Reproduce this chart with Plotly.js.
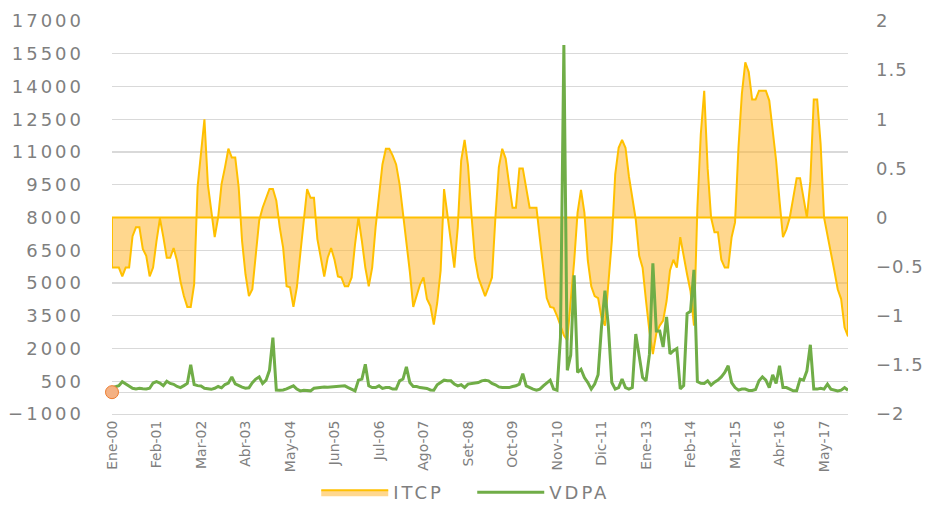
<!DOCTYPE html>
<html>
<head>
<meta charset="utf-8">
<script src="https://cdn.plot.ly/plotly-3.0.1.min.js"></script>
<style>
  html, body { margin: 0; padding: 0; background: #ffffff; }
  #chart { width: 925px; height: 505px; }
  .y2tick text, .legendtext { letter-spacing: 3px; }
  .ytick text { letter-spacing: 1px; }
</style>
</head>
<body>
<div id="chart"></div>
<script>
// Month abbreviations (Spanish) used to build the monthly categories Ene-00 .. Dic-17
const monthAbbr = ['Ene','Feb','Mar','Abr','May','Jun','Jul','Ago','Set','Oct','Nov','Dic'];
const startYear = 0;   // 2000
const nMonths = 216;   // Ene-00 .. Dic-17
const months = [];
for (let i = 0; i < nMonths; i++) {
  const yy = startYear + Math.floor(i / 12);
  months.push(monthAbbr[i % 12] + '-' + String(yy).padStart(2, '0'));
}
const tickStep = 13;
const tickLabels = months.filter((m, i) => i % tickStep === 0);

// ITCP (right axis)
const itcp = [
 -0.51,-0.51,-0.51,-0.60,-0.51,-0.51,-0.19,-0.10,-0.10,-0.32,
 -0.39,-0.60,-0.51,-0.24,-0.01,-0.20,-0.41,-0.41,-0.31,-0.44,
 -0.65,-0.80,-0.91,-0.91,-0.68, 0.31, 0.68, 1.00, 0.34, 0.07,
 -0.20, 0.00, 0.34, 0.51, 0.70, 0.61, 0.61, 0.31,-0.24,-0.58,
 -0.80,-0.73,-0.37,-0.03, 0.10, 0.19, 0.29, 0.29, 0.17,-0.10,
 -0.31,-0.70,-0.71,-0.91,-0.71,-0.37, 0.00, 0.29, 0.20, 0.20,
 -0.22,-0.43,-0.60,-0.41,-0.31,-0.43,-0.60,-0.61,-0.70,-0.70,
 -0.61,-0.27, 0.00,-0.24,-0.51,-0.70,-0.51,-0.10, 0.24, 0.54,
  0.70, 0.70, 0.63, 0.54, 0.34, 0.05,-0.20,-0.55,-0.91,-0.80,
 -0.68,-0.61,-0.83,-0.90,-1.09,-0.87,-0.54, 0.29, 0.03,-0.20,
 -0.51,-0.10, 0.58, 0.79, 0.53, 0.03,-0.41,-0.61,-0.71,-0.80,
 -0.71,-0.61, 0.00, 0.51, 0.70, 0.60, 0.34, 0.10, 0.10, 0.50,
  0.50, 0.29, 0.10, 0.10, 0.10,-0.22,-0.55,-0.82,-0.91,-0.92,
 -1.00,-1.10,-1.20,-1.25,-0.85,-0.45, 0.05, 0.28, 0.05,-0.44,
 -0.70,-0.80,-0.82,-1.02,-1.10,-0.68,-0.24, 0.44, 0.71, 0.79,
  0.71, 0.42, 0.22,-0.02,-0.39,-0.51,-0.85,-1.16,-1.39,-1.18,
 -1.10,-1.05,-0.85,-0.54,-0.43,-0.51,-0.20,-0.41,-0.58,-0.75,
 -1.10, 0.10, 0.85, 1.29, 0.50, 0.00,-0.15,-0.15,-0.43,-0.51,
 -0.51,-0.20,-0.05, 0.71, 1.26, 1.58, 1.48, 1.20, 1.20, 1.29,
  1.29, 1.29, 1.19, 0.90, 0.58, 0.17,-0.20,-0.12, 0.00, 0.20,
  0.40, 0.40, 0.20, 0.00, 0.37, 1.20, 1.20, 0.75, 0.00,-0.17,
 -0.34,-0.54,-0.73,-0.83,-1.12,-1.21
];

// VDPA (left axis)
const vdpa = [
  200, 260, 300, 480, 380, 260, 180, 150, 180, 160,
  150, 180, 420, 480, 420, 300, 500, 400, 360, 260,
  210, 300, 400,1250, 350, 300, 280, 180, 140, 130,
  180, 260, 200, 350, 420, 700, 380, 300, 230, 180,
  200, 430, 600, 700, 400, 550,1000,2500, 100,  90,
  100, 150, 210, 290, 140,  60,  90,  80,  60, 180,
  210, 230, 240, 230, 240, 230, 240, 250, 290, 210,
  140,  60, 550, 600,1280, 290, 210, 210, 290, 170,
  210, 210, 140, 140, 520, 600,1160, 440, 260, 260,
  210, 180, 170, 100,  90, 340, 440, 550, 520, 520,
  370, 290, 340, 210, 370, 400, 410, 440, 520, 550,
  520, 400, 340, 240, 210, 210, 210, 260, 290, 370,
  850, 290, 210, 140,  90, 140, 290, 440, 550, 140,
   90,2500,15900,1000,1700,5350, 900,1050, 670, 440,
  140, 370, 800,3000,4650,3000, 440, 140, 210, 600,
  210, 140, 210,2660,1740, 670, 520,1740,5900,2800,
 2800,2070,3450,1750,1900,2000, 150, 300,3600,3700,
 5600, 490, 410, 400, 520, 320, 460, 550, 700, 900,
 1210, 440, 210,  90, 140, 140,  80,  80, 120, 520,
  700, 550, 210, 790, 400,1210, 210, 210, 140,  60,
   60, 600, 550, 980,2170, 140, 140, 180, 140, 370,
  140,  90,  60,  90, 210,  90
];

// Single orange point shown at the origin of the chart
const startPointX = [months[0]];
const startPointY = [0];

const gray = '#7f7f7f';
const gridCol = '#d9d9d9';
const fontFam = 'DejaVu Sans, sans-serif';

// Area polygon for ITCP closed on its zero baseline
const itcpX = [months[0]].concat(months, [months[months.length - 1], months[0]]);
const itcpY = [0].concat(itcp, [0, 0]);

const traces = [
  {
    name: 'ITCP',
    x: itcpX, y: itcpY,
    yaxis: 'y',
    type: 'scatter', mode: 'lines',
    fill: 'toself',
    fillcolor: 'rgba(255,183,50,0.55)',
    line: { color: '#FFC000', width: 2 },
    hoverinfo: 'skip'
  },
  {
    name: 'VDPA',
    x: months, y: vdpa,
    yaxis: 'y2',
    type: 'scatter', mode: 'lines',
    line: { color: '#70AD47', width: 3 }
  },
  {
    name: 'start',
    x: startPointX, y: startPointY,
    yaxis: 'y2',
    type: 'scatter', mode: 'markers',
    cliponaxis: false,
    showlegend: false,
    marker: { size: 13, color: '#F4B183', line: { color: '#ED7D31', width: 1 } }
  }
];

const layout = {
  width: 925, height: 505,
  margin: { l: 112, r: 77, t: 21, b: 91, autoexpand: false },
  paper_bgcolor: '#ffffff', plot_bgcolor: '#ffffff',
  font: { family: fontFam, color: gray, size: 18 },
  showlegend: true,
  legend: {
    orientation: 'h',
    x: 0.2775, xanchor: 'left',
    y: -0.2, yanchor: 'middle',
    font: { family: fontFam, size: 18, color: gray },
    itemwidth: 67,
    entrywidth: 74, entrywidthmode: 'pixels',
    traceorder: 'normal'
  },
  xaxis: {
    type: 'category',
    range: [0, nMonths - 1],
    tickmode: 'array',
    tickvals: tickLabels,
    ticktext: tickLabels,
    tickangle: -90,
    tickfont: { family: fontFam, size: 14, color: gray },
    showgrid: false, zeroline: false,
    showline: true, linecolor: gridCol, linewidth: 1,
    ticks: ''
  },
  yaxis: {
    side: 'right',
    range: [-2, 2],
    dtick: 0.5, tick0: 0,
    showgrid: false, zeroline: false,
    ticks: '',
    ticklabelstandoff: 27,
    tickfont: { family: fontFam, size: 18, color: gray }
  },
  yaxis2: {
    overlaying: 'y',
    side: 'left',
    range: [-1000, 17000],
    dtick: 1500, tick0: -1000,
    tickformat: 'd',
    showgrid: true, gridcolor: gridCol, gridwidth: 1.3,
    zeroline: true, zerolinecolor: gridCol, zerolinewidth: 1.3,
    ticks: '',
    ticklabelstandoff: 27,
    tickfont: { family: fontFam, size: 18, color: gray }
  }
};

Plotly.newPlot('chart', traces, layout, { displayModeBar: false, staticPlot: true });
</script>
</body>
</html>
